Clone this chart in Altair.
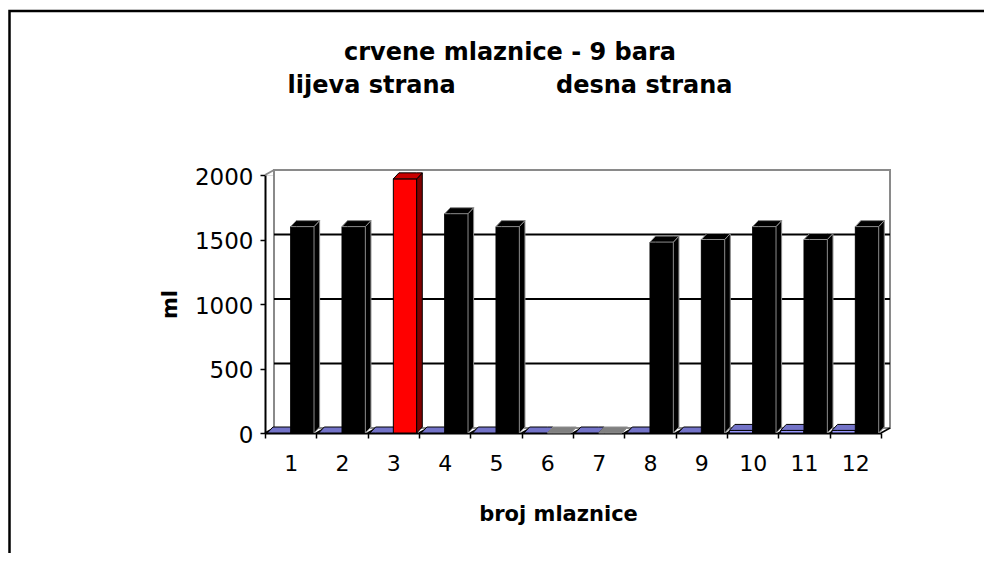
import altair as alt
import pandas as pd

# ---------------- data ----------------
categories = [1, 2, 3, 4, 5, 6, 7, 8, 9, 10, 11, 12]
series_a = [0, 0, 0, 0, 0, 0, 0, 0, 0, 20, 20, 20]            # blue (near zero)
series_b = [1600, 1600, 1970, 1700, 1600, 0, 0, 1480, 1500, 1600, 1500, 1600]
highlight_cat = 3
y_ticks = [0, 500, 1000, 1500, 2000]
title_lines = ["crvene mlaznice - 9 bara",
               "lijeva strana" + "\u00a0" * 12 + "desna strana"]
x_title = "broj mlaznice"
y_title = "ml"

# ---------------- geometry (plot units) ----------------
W, H = 616, 258
x_lo, x_hi = categories[0] - 0.5, categories[-1] + 0.5
band = W / (x_hi - x_lo)
ymax = max(y_ticks)
upp = ymax / H                  # data units per pixel (y)
DXu, DYu = 9 / band, 5 * upp    # wall / floor depth
BDX, BDY = 5.6 / band, 6 * upp  # bar depth
BW = 0.455                      # bar width in category units
FONT = "DejaVu Sans"

fronts, sides, tops = [], [], []
bid = 0
for c, a, b in zip(categories, series_a, series_b):
    for ser, v in (("a", a), ("b", b)):
        bid += 1
        if ser == "a":
            x0 = c - BW
            ff, sf, tf, st, fs = "#9999ff", "#4d4d88", "#7373c8", "#000000", "#000000"
        elif c == highlight_cat:
            x0 = c
            ff, sf, tf, st, fs = "#ff0000", "#800000", "#c80000", "#000000", "#000000"
        else:
            x0 = c
            ff, sf, st, fs = "#000000", "#000000", "#8c8c8c", "#000000"
            tf = "#000000" if v > 0 else "#808080"
        x1 = x0 + BW
        fronts.append(dict(id=bid, ser=ser, x0=x0, x1=x1, v=v, fill=ff, stroke=fs))
        for k in (0, 1):
            sides.append(dict(id=bid, ser=ser, px=x1 + k * BDX, lo=k * BDY,
                              hi=v + k * BDY, fill=sf, stroke=st))
        for dxk, lo, hi in ((0, 0, 0), (BDX, 0, BDY), (BW, 0, BDY), (BW + BDX, BDY, BDY)):
            tops.append(dict(id=bid, ser=ser, px=x0 + dxk, lo=v + lo, hi=v + hi,
                             fill=tf, stroke=st))

front_df = pd.DataFrame(fronts)
side_df = pd.DataFrame(sides)
top_df = pd.DataFrame(tops)

bounds = [c - 0.5 for c in categories] + [x_hi]
floor_df = pd.DataFrame({"b": bounds, "b2": [b + DXu for b in bounds],
                         "y0": 0, "y1": DYu})
grid_df = pd.DataFrame({"g": [t + DYu for t in y_ticks[1:-1]],
                        "xa": x_lo + DXu, "xb": x_hi + DXu})
wall_df = pd.DataFrame({"xa": [x_lo + DXu], "xb": [x_hi + DXu],
                        "ya": [DYu], "yb": [ymax + DYu]})
corner_df = pd.DataFrame({"xa": [x_lo], "xb": [x_lo + DXu],
                          "ya": [ymax], "yb": [ymax + DYu]})

xs = alt.Scale(domain=[x_lo, x_hi], nice=False, zero=False)
ys = alt.Scale(domain=[0, ymax], nice=False, zero=False)

x_axis = alt.Axis(
    values=bounds,
    labelExpr=f"datum.value < {x_hi - 0.1} ? format(datum.value + 0.5, 'd') : ''",
    labelOffset=band / 2, labelFlush=False, labelOverlap=False, labelBound=False,
    tickSize=5, tickWidth=1.5, tickColor="black",
    domainColor="black", domainWidth=2, grid=False,
    labelFont=FONT, labelFontSize=22, labelColor="black", labelPadding=15,
    title=x_title, titleFont=FONT, titleFontSize=21, titleFontWeight="bold",
    titleColor="black", titleX=293, titleY=87, titleAlign="center",
    titleBaseline="alphabetic",
)
y_axis = alt.Axis(
    values=y_ticks, format="d", tickSize=5, tickWidth=1.5, tickColor="black",
    domainColor="black", domainWidth=2, grid=False,
    labelFont=FONT, labelFontSize=23, labelColor="black", labelPadding=7,
    labelOffset=2,
    title=y_title, titleFont=FONT, titleFontSize=21, titleFontWeight="bold",
    titleColor="black", titleX=-95, titleY=H / 2, titleAngle=270,
    titleAlign="center", titleBaseline="middle",
)


def X(f):
    return alt.X(f, scale=xs, axis=x_axis)


def Y(f, **kw):
    return alt.Y(f, scale=ys, axis=y_axis, **kw)


wall = alt.Chart(wall_df).mark_rect(fill="white", stroke="#8a8a8a", strokeWidth=2).encode(
    x=X("xa:Q"), x2="xb:Q", y=Y("ya:Q"), y2="yb:Q",
)
corner = alt.Chart(corner_df).mark_rule(color="#8a8a8a", strokeWidth=2).encode(
    x=X("xa:Q"), x2="xb:Q", y=Y("ya:Q"), y2="yb:Q",
)
grid = alt.Chart(grid_df).mark_rule(color="black", strokeWidth=2).encode(
    x=X("xa:Q"), x2="xb:Q", y=Y("g:Q"),
)
floor = alt.Chart(floor_df).mark_rule(color="black", strokeWidth=1.5).encode(
    x=X("b:Q"), x2="b2:Q", y=Y("y0:Q"), y2="y1:Q",
)


def faces(ser):
    fr = alt.Chart(front_df[front_df.ser == ser]).mark_rect(strokeWidth=1).encode(
        x=X("x0:Q"), x2="x1:Q",
        y=Y("v:Q"), y2=alt.datum(0),
        fill=alt.Fill("fill:N", scale=None),
        stroke=alt.Stroke("stroke:N", scale=None),
    )
    sd = alt.Chart(side_df[side_df.ser == ser]).mark_area(strokeWidth=1, interpolate="linear").encode(
        x=X("px:Q"), y=Y("hi:Q", stack=None), y2="lo:Q",
        detail="id:N",
        fill=alt.Fill("fill:N", scale=None),
        stroke=alt.Stroke("stroke:N", scale=None),
    )
    tp = alt.Chart(top_df[top_df.ser == ser]).mark_area(strokeWidth=1, interpolate="linear").encode(
        x=X("px:Q"), y=Y("hi:Q", stack=None), y2="lo:Q",
        detail="id:N",
        fill=alt.Fill("fill:N", scale=None),
        stroke=alt.Stroke("stroke:N", scale=None),
    )
    return [fr, sd, tp]


one = pd.DataFrame({"a": [0]})
border = alt.Chart(one).mark_rect(
    filled=False, stroke="black", strokeWidth=2.5
).encode(
    x=alt.value(-255.5), x2=alt.value(900),
    y=alt.value(-164), y2=alt.value(600),
)

title1 = alt.Chart(one).mark_text(
    text=title_lines[0], font=FONT, fontSize=24, fontWeight="bold", color="black",
    align="center", baseline="alphabetic",
).encode(x=alt.value(245), y=alt.value(-115))
title2 = alt.Chart(one).mark_text(
    text=title_lines[1], font=FONT, fontSize=24, fontWeight="bold", color="black",
    align="center", baseline="alphabetic",
).encode(x=alt.value(245), y=alt.value(-82))

chart = alt.layer(
    wall, corner, grid, floor, *faces("a"), *faces("b"), border, title1, title2
).properties(
    width=W, height=H,
    autosize=alt.AutoSizeParams(type="none"),
    padding={"left": 257, "top": 167, "right": 103, "bottom": 120},
).configure_view(stroke=None).configure(background="white")

chart.save("out.html", embed_options={"renderer": "svg", "actions": False})
